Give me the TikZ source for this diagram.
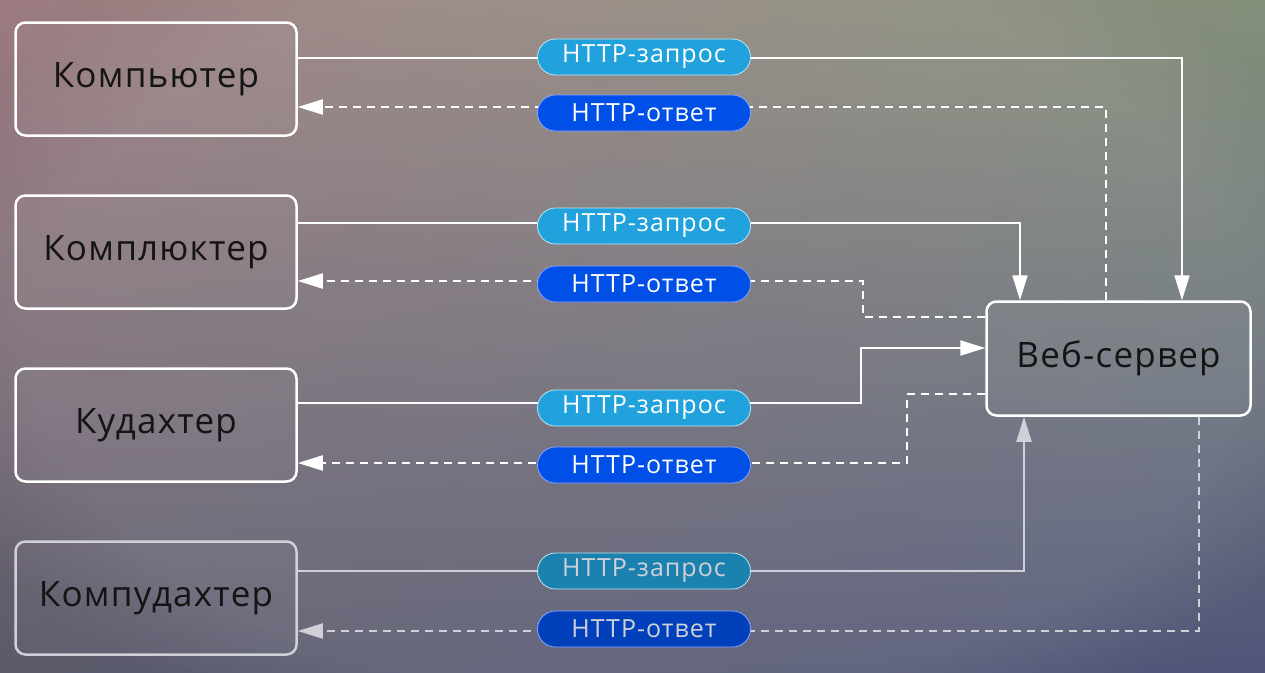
\documentclass[tikz,border=0pt]{standalone}
\usepackage{fontspec}
\setmainfont{Open Sans}
\usetikzlibrary{arrows.meta,shadings,fadings}
\definecolor{bgtl}{HTML}{9C7B80}
\definecolor{bgtr}{HTML}{84907A}
\definecolor{bgbl}{HTML}{5A5A6A}
\definecolor{bgbr}{HTML}{505579}
\definecolor{reqfill}{HTML}{22A2DC}
\definecolor{reqline}{HTML}{BDE6F6}
\definecolor{respfill}{HTML}{0050E8}
\definecolor{respline}{HTML}{86A6FF}
\definecolor{boxtext}{HTML}{141414}
\definecolor{faded}{HTML}{D0D0D8}
\begin{document}
\begin{tikzpicture}[x=1pt,y=-1pt,
  client/.style={draw=white, line width=2.5pt, rounded corners=10pt,
    minimum width=281pt, minimum height=113pt, inner sep=0pt,
    fill=white, fill opacity=0.03, text opacity=1,
    font=\fontsize{35}{38}\selectfont\addfontfeature{LetterSpace=3.5}, text=boxtext},
  reqpill/.style={draw=reqline, line width=0.8pt, fill=reqfill, rounded corners=18pt,
    minimum width=213pt, minimum height=36pt, inner sep=0pt,
    text=white, font=\fontsize{25}{28}\selectfont\addfontfeature{LetterSpace=4}},
  resppill/.style={reqpill, draw=respline, fill=respfill},
  req/.style={draw=white, line width=2pt, -{Triangle[length=25pt,width=15pt]}},
  resp/.style={req, dash pattern=on 8pt off 6pt}
]
\useasboundingbox (0,0) rectangle (1265,672);
\shade[upper left=bgtl, upper right=bgtr, lower left=bgbl, lower right=bgbr]
  (0,0) rectangle (1265,672);
\fill[white, fill opacity=0.09, path fading=circle with fuzzy edge 20 percent]
  (640,330) ellipse (760pt and 460pt);

\node[client] (b1) at (156,79) {Компьютер};
\node[client] (b2) at (156,252) {Комплюктер};
\node[client] (b3) at (156,425) {Кудахтер};
\node[client, draw=faded] (b4) at (156,598) {Компудахтер};
\node[client, minimum width=264pt, minimum height=114pt] (srv) at (1118.5,358.5) {Веб-сервер};

% row 1
\draw[req] (b1.east |- 0,58) -| (srv.north -| 1182,0);
\draw[resp] (srv.north -| 1106,0) |- (b1.east |- 0,107);
% row 2
\draw[req] (b2.east |- 0,223) -| (srv.north -| 1020,0);
\draw[resp] (srv.west |- 0,317) -| (863,281) -- (b2.east |- 0,281);
% row 3
\draw[req] (b3.east |- 0,403) -| (861,348) -- (srv.west |- 0,348);
\draw[resp] (srv.west |- 0,394) -| (907,463) -- (b3.east |- 0,463);
% row 4
\draw[req, draw=faded] (b4.east |- 0,571) -| (srv.south -| 1024,0);
\draw[resp, draw=faded] (srv.south -| 1199,0) |- (b4.east |- 0,631);

\node[reqpill] (q1) at (644,57) {HTTP-запрос};
\node[resppill] (a1) at (644,113) {HTTP-ответ};
\node[reqpill] (q2) at (644,226) {HTTP-запрос};
\node[resppill] (a2) at (644,284) {HTTP-ответ};
\node[reqpill] (q3) at (644,408) {HTTP-запрос};
\node[resppill] (a3) at (644,465) {HTTP-ответ};
\node[reqpill, fill=reqfill!80!black, text=faded] (q4) at (644,571) {HTTP-запрос};
\node[resppill, fill=respfill!80!black, text=faded] (a4) at (644,629) {HTTP-ответ};
\end{tikzpicture}
\end{document}
